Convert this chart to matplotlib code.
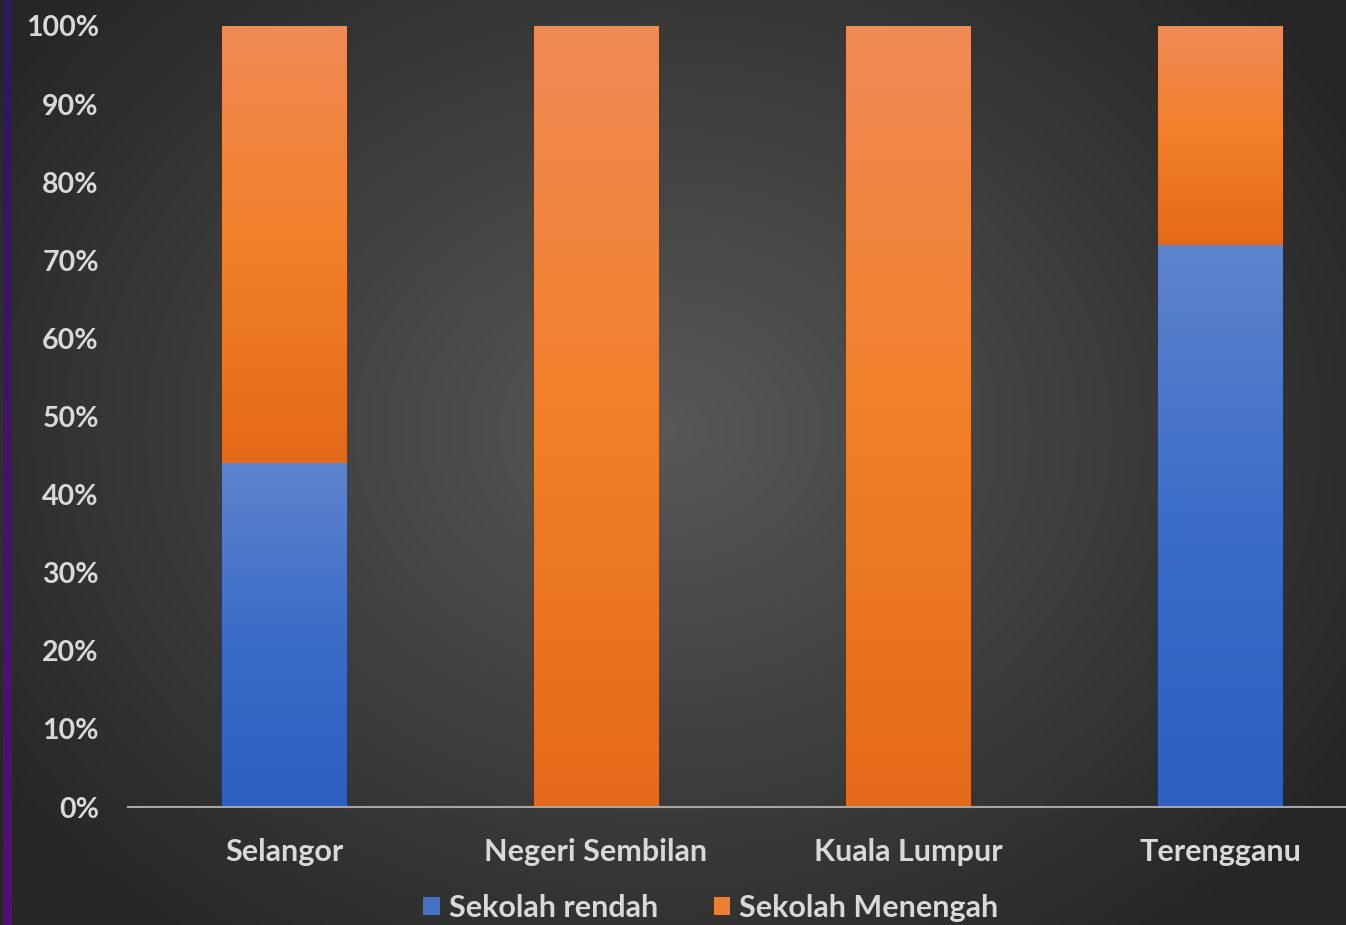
import numpy as np
import matplotlib
matplotlib.use("Agg")
import matplotlib.pyplot as plt
from matplotlib.colors import LinearSegmentedColormap
from matplotlib.patches import Patch

# Share of pupils by school level for each state (percent of total)
states = ["Selangor", "Negeri Sembilan", "Kuala Lumpur", "Terengganu"]
sekolah_rendah = [44, 0, 0, 72]
sekolah_menengah = [56, 100, 100, 28]
series_names = ["Sekolah rendah", "Sekolah Menengah"]
y_ticks = [0, 10, 20, 30, 40, 50, 60, 70, 80, 90, 100]

W, H = 1346, 925
fig = plt.figure(figsize=(W / 100, H / 100), dpi=100)

# Radial dark background
bg = fig.add_axes([0, 0, 1, 1], zorder=-10)
yy, xx = np.mgrid[0:H, 0:W]
r = np.sqrt(((xx - 660) / 760.0) ** 2 + ((yy - 430) / 620.0) ** 2)
shade = np.clip(0.345 - 0.185 * r, 0.15, 0.345)
bg.imshow(np.dstack([shade, shade, shade]), extent=[0, W, H, 0], aspect="auto")
# purple strip on the left edge
strip = np.linspace(0, 1, H)[:, None]
top_c = np.array([0.18, 0.10, 0.36])
bot_c = np.array([0.34, 0.05, 0.47])
strip_img = top_c[None, None, :] * (1 - strip[..., None]) + bot_c[None, None, :] * strip[..., None]
bg.imshow(strip_img, extent=[3, 12, H, 0], aspect="auto")
bg.set_xlim(0, W)
bg.set_ylim(H, 0)
bg.axis("off")

ax = fig.add_axes([128 / W, 118 / H, 1248 / W, 781 / H])
ax.set_facecolor("none")

x = np.arange(len(states))
width = 0.4

blue_cmap = LinearSegmentedColormap.from_list("b", ["#2c5fbf", "#3a6cc8", "#5e84cd"])
orange_cmap = LinearSegmentedColormap.from_list("o", ["#e36a1a", "#f27f2a", "#f08b56"])

bars_r = ax.bar(x, sekolah_rendah, width, color="#4472c4", label=series_names[0])
bars_m = ax.bar(x, sekolah_menengah, width, bottom=sekolah_rendah, color="#ed7d31",
                label=series_names[1])

grad = np.linspace(0, 1, 256)[:, None]
for bars, cmap in ((bars_r, blue_cmap), (bars_m, orange_cmap)):
    for p in bars:
        h = p.get_height()
        if h <= 0:
            continue
        x0, y0 = p.get_x(), p.get_y()
        im = ax.imshow(grad, cmap=cmap, origin="lower", aspect="auto",
                       extent=[x0, x0 + p.get_width(), y0, y0 + h], zorder=2)
        im.set_clip_path(p)
        p.set_facecolor("none")
        p.set_edgecolor("none")

ax.set_xlim(-0.5, 3.5)
ax.set_ylim(0, 100)
ax.set_yticks(y_ticks)
ax.set_yticklabels([f"{v}%" for v in y_ticks])
ax.set_xticks(x)
ax.set_xticklabels(states)

txt_color = "#d9d9d9"
for lab in ax.get_yticklabels():
    lab.set_fontfamily("Lato")
    lab.set_fontweight("bold")
    lab.set_fontsize(20.5)
    lab.set_color(txt_color)
for lab in ax.get_xticklabels():
    lab.set_fontfamily("Lato")
    lab.set_fontweight("bold")
    lab.set_fontsize(22)
    lab.set_color(txt_color)
ax.tick_params(axis="y", length=0, pad=21)
ax.tick_params(axis="x", length=0, pad=22)

for s in ("top", "right", "left"):
    ax.spines[s].set_visible(False)
ax.spines["bottom"].set_color("#a6a6a6")
ax.spines["bottom"].set_linewidth(1.5)
ax.spines["bottom"].set_zorder(3)

handles = [Patch(facecolor="#4472c4", label=series_names[0]),
           Patch(facecolor="#ed7d31", label=series_names[1])]
leg = fig.legend(handles=handles, loc="center", bbox_to_anchor=(711 / W, 1 - 908 / H),
                 ncol=2, frameon=False, handlelength=0.55, handleheight=0.55,
                 handletextpad=0.3, columnspacing=1.8,
                 prop=dict(family="Lato", weight="bold", size=22))
for t in leg.get_texts():
    t.set_color(txt_color)

fig.savefig("out.png", dpi=100)
